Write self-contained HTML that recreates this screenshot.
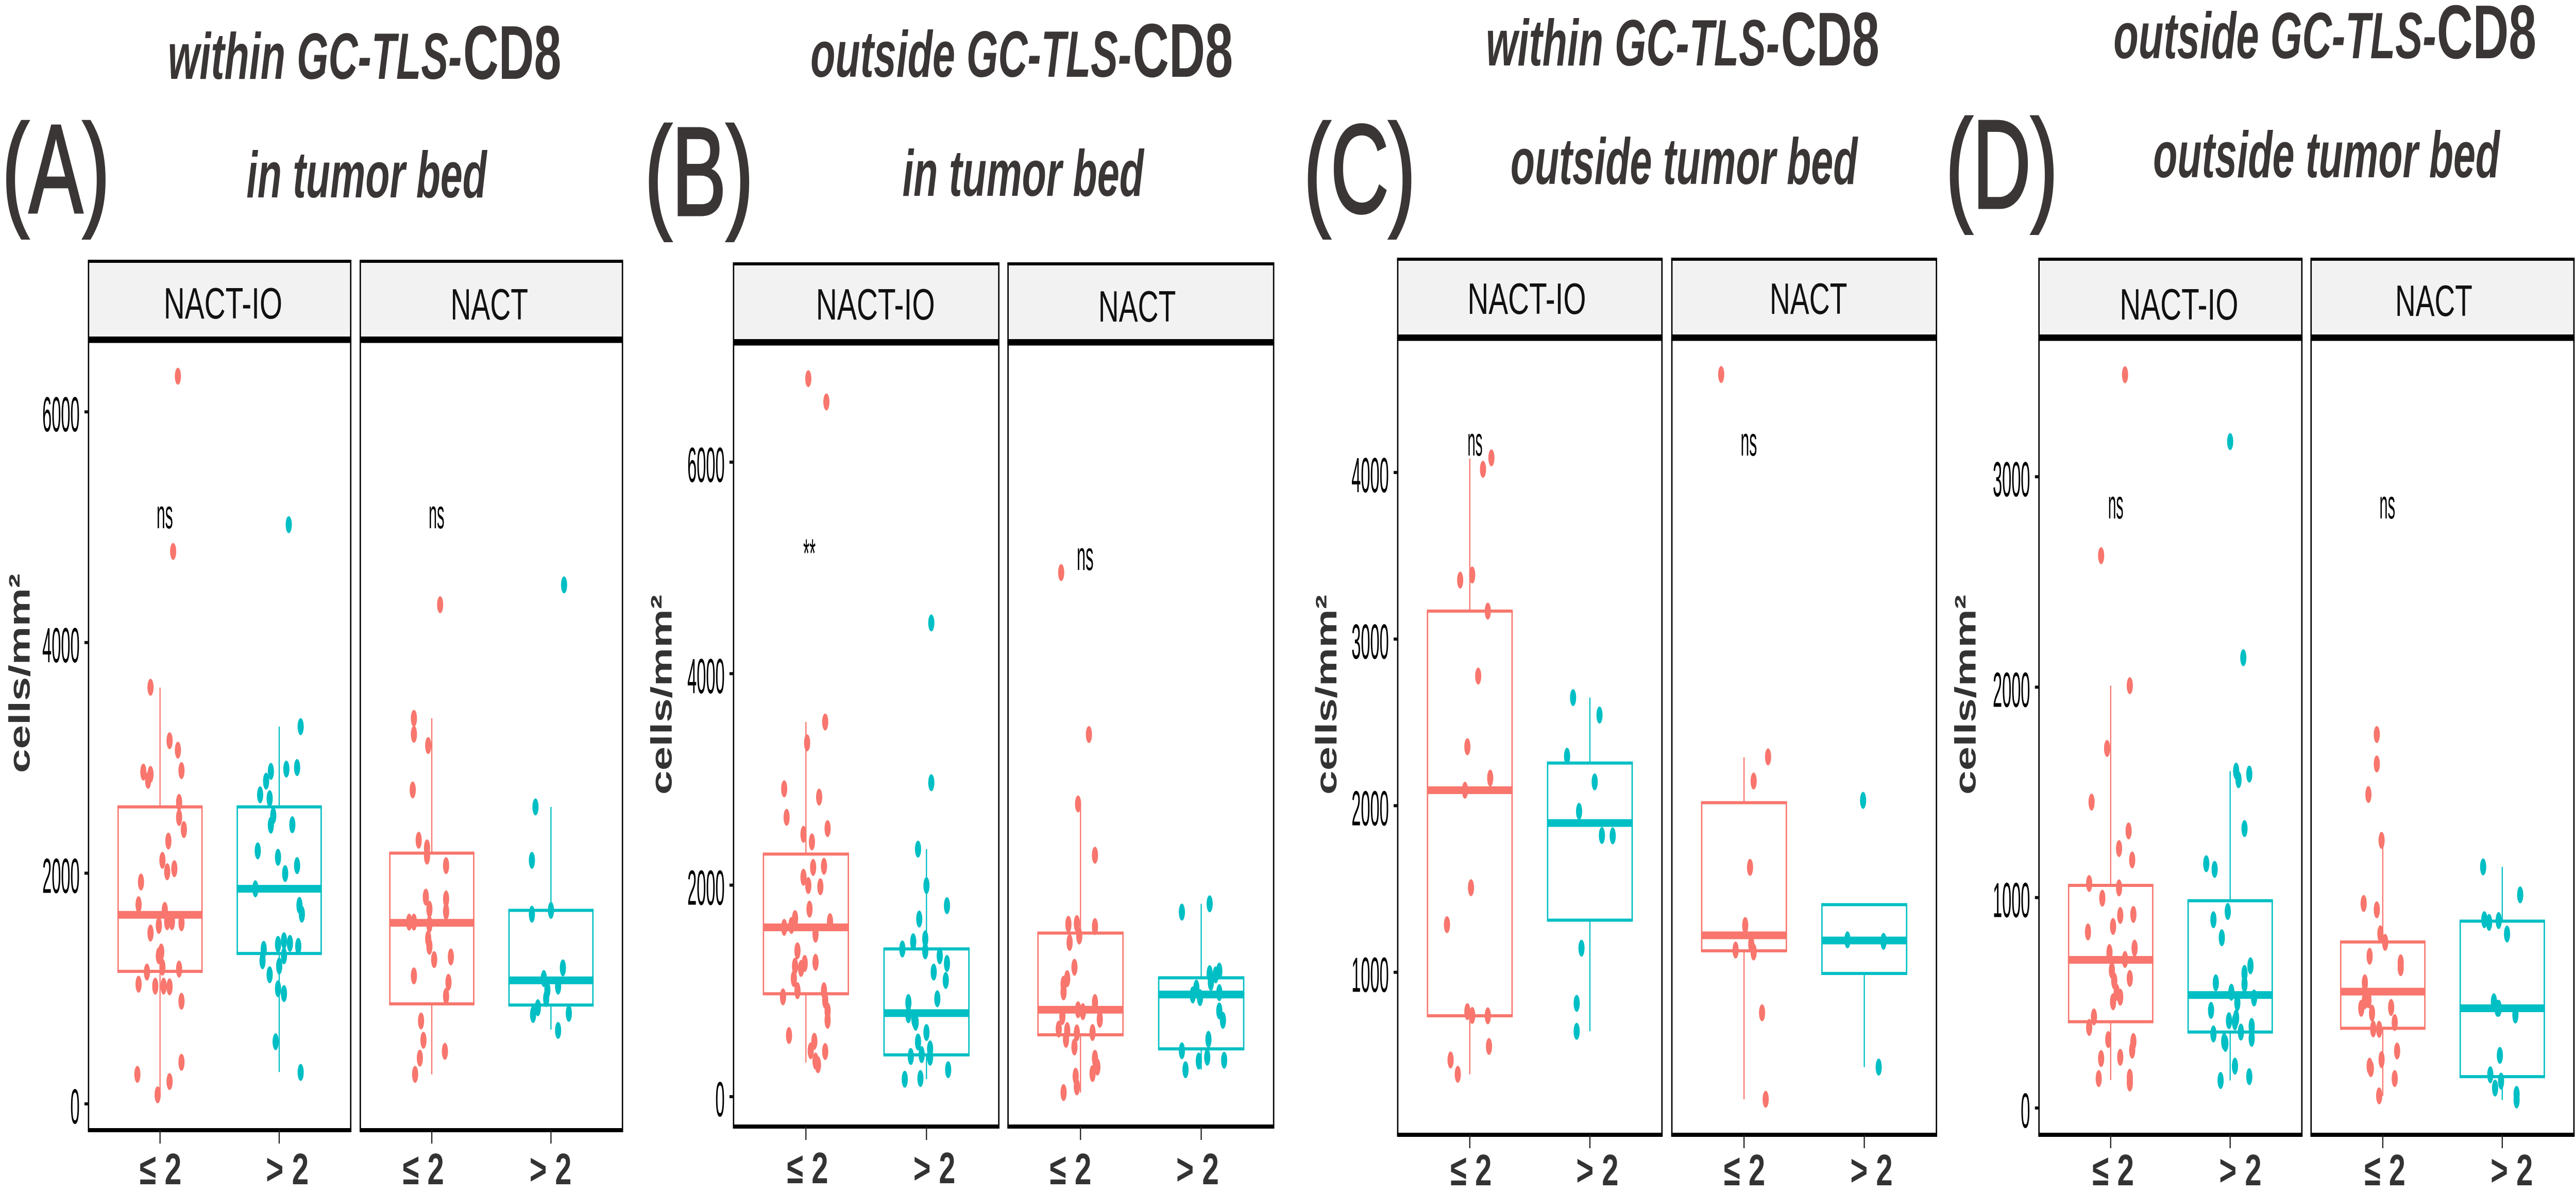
<!DOCTYPE html>
<html lang="en">
<head>
<meta charset="utf-8">
<title>GC-TLS CD8 boxplots</title>
<style>
html,body{margin:0;padding:0;background:#fff;overflow:hidden;width:100%;height:100%;}
svg{display:block;width:100vw;height:100vh;}
text{font-family:"Liberation Sans",Arial,sans-serif;}
.ttl{font-weight:700;font-style:italic;font-size:127px;fill:#3a3635;}
.cd8{font-weight:700;font-size:148px;fill:#3a3635;}
.tag{font-size:244px;fill:#3a3635;stroke:#3a3635;stroke-width:5px;}
.strip{font-size:85px;fill:#111;}
.ylab{font-weight:700;font-size:86px;fill:#333;}
.xt{font-weight:700;font-size:85px;fill:#333;}
.sig{font-size:79px;fill:#000;}
.yt{font-size:96px;fill:#000;}
</style>
</head>
<body>
<svg id="figure" xmlns="http://www.w3.org/2000/svg" viewBox="0 0 7536 2313" preserveAspectRatio="none">
<rect width="7536" height="2313" fill="#ffffff"/>
<g id="marks"></g>

<g>
<text class="tag" x="6" y="412" textLength="315" lengthAdjust="spacingAndGlyphs">(A)</text>
<text class="ttl" x="491" y="153" textLength="860" lengthAdjust="spacingAndGlyphs">within GC-TLS-</text>
<text class="cd8" x="1355" y="153" textLength="287" lengthAdjust="spacingAndGlyphs">CD8</text>
<text class="ttl" x="721" y="383" textLength="703" lengthAdjust="spacingAndGlyphs">in tumor bed</text>
<text class="strip" x="479" y="618" textLength="347" lengthAdjust="spacingAndGlyphs">NACT-IO</text>
<text class="strip" x="1318" y="620" textLength="227" lengthAdjust="spacingAndGlyphs">NACT</text>
<text class="ylab" transform="translate(87,1500) rotate(-90)" textLength="387" lengthAdjust="spacingAndGlyphs">cells/mm²</text>
<text class="xt" x="408" y="2298" textLength="123" lengthAdjust="spacingAndGlyphs">≤ 2</text>
<text class="xt" x="778" y="2298" textLength="125" lengthAdjust="spacingAndGlyphs">&gt; 2</text>
<text class="xt" x="1178" y="2298" textLength="121" lengthAdjust="spacingAndGlyphs">≤ 2</text>
<text class="xt" x="1549" y="2298" textLength="123" lengthAdjust="spacingAndGlyphs">&gt; 2</text>
<text class="sig" x="458" y="1025" textLength="48" lengthAdjust="spacingAndGlyphs">ns</text>
<text class="sig" x="1254" y="1025" textLength="46" lengthAdjust="spacingAndGlyphs">ns</text>
</g>

<g>
<text class="tag" x="1886" y="417" textLength="318" lengthAdjust="spacingAndGlyphs">(B)</text>
<text class="ttl" x="2371" y="149" textLength="939" lengthAdjust="spacingAndGlyphs">outside GC-TLS-</text>
<text class="cd8" x="3314" y="149" textLength="293" lengthAdjust="spacingAndGlyphs">CD8</text>
<text class="ttl" x="2640" y="380" textLength="706" lengthAdjust="spacingAndGlyphs">in tumor bed</text>
<text class="strip" x="2387" y="620" textLength="348" lengthAdjust="spacingAndGlyphs">NACT-IO</text>
<text class="strip" x="3213" y="624" textLength="227" lengthAdjust="spacingAndGlyphs">NACT</text>
<text class="ylab" transform="translate(1965,1542) rotate(-90)" textLength="388" lengthAdjust="spacingAndGlyphs">cells/mm²</text>
<text class="xt" x="2302" y="2296" textLength="121" lengthAdjust="spacingAndGlyphs">≤ 2</text>
<text class="xt" x="2672" y="2296" textLength="123" lengthAdjust="spacingAndGlyphs">&gt; 2</text>
<text class="xt" x="3071" y="2298" textLength="122" lengthAdjust="spacingAndGlyphs">≤ 2</text>
<text class="xt" x="3441" y="2298" textLength="125" lengthAdjust="spacingAndGlyphs">&gt; 2</text>
<text class="sig" x="2350" y="1101" textLength="36" lengthAdjust="spacingAndGlyphs">**</text>
<text class="sig" x="3150" y="1106" textLength="49" lengthAdjust="spacingAndGlyphs">ns</text>
</g>

<g>
<text class="tag" x="3814" y="412" textLength="327" lengthAdjust="spacingAndGlyphs">(C)</text>
<text class="ttl" x="4347" y="127" textLength="859" lengthAdjust="spacingAndGlyphs">within GC-TLS-</text>
<text class="cd8" x="5210" y="127" textLength="288" lengthAdjust="spacingAndGlyphs">CD8</text>
<text class="ttl" x="4419" y="357" textLength="1015" lengthAdjust="spacingAndGlyphs">outside tumor bed</text>
<text class="strip" x="4293" y="609" textLength="347" lengthAdjust="spacingAndGlyphs">NACT-IO</text>
<text class="strip" x="5177" y="609" textLength="227" lengthAdjust="spacingAndGlyphs">NACT</text>
<text class="ylab" transform="translate(3910,1542) rotate(-90)" textLength="388" lengthAdjust="spacingAndGlyphs">cells/mm²</text>
<text class="xt" x="4243" y="2300" textLength="121" lengthAdjust="spacingAndGlyphs">≤ 2</text>
<text class="xt" x="4611" y="2300" textLength="124" lengthAdjust="spacingAndGlyphs">&gt; 2</text>
<text class="xt" x="5043" y="2300" textLength="121" lengthAdjust="spacingAndGlyphs">≤ 2</text>
<text class="xt" x="5413" y="2300" textLength="124" lengthAdjust="spacingAndGlyphs">&gt; 2</text>
<text class="sig" x="4293" y="884" textLength="44" lengthAdjust="spacingAndGlyphs">ns</text>
<text class="sig" x="5092" y="884" textLength="48" lengthAdjust="spacingAndGlyphs">ns</text>
</g>

<g>
<text class="tag" x="5692" y="403" textLength="328" lengthAdjust="spacingAndGlyphs">(D)</text>
<text class="ttl" x="6183" y="113" textLength="944" lengthAdjust="spacingAndGlyphs">outside GC-TLS-</text>
<text class="cd8" x="7129" y="113" textLength="291" lengthAdjust="spacingAndGlyphs">CD8</text>
<text class="ttl" x="6299" y="344" textLength="1014" lengthAdjust="spacingAndGlyphs">outside tumor bed</text>
<text class="strip" x="6201" y="620" textLength="347" lengthAdjust="spacingAndGlyphs">NACT-IO</text>
<text class="strip" x="7007" y="613" textLength="226" lengthAdjust="spacingAndGlyphs">NACT</text>
<text class="ylab" transform="translate(5779,1542) rotate(-90)" textLength="388" lengthAdjust="spacingAndGlyphs">cells/mm²</text>
<text class="xt" x="6121" y="2300" textLength="122" lengthAdjust="spacingAndGlyphs">≤ 2</text>
<text class="xt" x="6492" y="2300" textLength="124" lengthAdjust="spacingAndGlyphs">&gt; 2</text>
<text class="xt" x="6917" y="2300" textLength="120" lengthAdjust="spacingAndGlyphs">≤ 2</text>
<text class="xt" x="7286" y="2300" textLength="124" lengthAdjust="spacingAndGlyphs">&gt; 2</text>
<text class="sig" x="6167" y="1006" textLength="45" lengthAdjust="spacingAndGlyphs">ns</text>
<text class="sig" x="6961" y="1006" textLength="46" lengthAdjust="spacingAndGlyphs">ns</text>
</g>
</svg>

<script>
// Tick labels
const ticksA = [0, 2000, 4000, 6000];
const ticksB = [0, 2000, 4000, 6000];
const ticksC = [1000, 2000, 3000, 4000];
const ticksD = [0, 1000, 2000, 3000];

// Box statistics: [whisker low, q1, median, q3, whisker high]
const aIoLeBox = [85, 1149, 1639, 2575, 3609];
const aIoGtBox = [276, 1304, 1865, 2575, 3271];
const aNaLeBox = [256, 867, 1570, 2174, 3343];
const aNaGtBox = [644, 857, 1071, 1678, 2575];
const bIoLeBox = [323, 973, 1601, 2294, 3543];
const bIoGtBox = [165, 395, 790, 1397, 2341];
const bNaLeBox = [39, 585, 822, 1547, 2768];
const bNaGtBox = [255, 452, 966, 1124, 1824];
const cIoLeBox = [388, 739, 2093, 3168, 4084];
const cIoGtBox = [646, 1313, 1896, 2256, 2649];
const cNaLeBox = [238, 1129, 1222, 2018, 2290];
const cNaGtBox = [431, 993, 1191, 1406, 1406];
const dIoLeBox = [133, 410, 704, 1058, 2007];
const dIoGtBox = [131, 361, 537, 985, 1601];
const dNaLeBox = [58, 379, 553, 789, 1272];
const dNaGtBox = [38, 149, 474, 888, 1146];

// Point values (cells/mm²) and horizontal jitter (fraction of a category)
const aIoLeValues = [6309,4790,3612,3149,3067,2877,2857,2805,2890,2614,2483,2378,2279,2112,2039,2013,1924,1727,1678,1580,1580,1570,1547,1481,1317,1284,1185,1169,1143,1038,1021,1021,1015,890,361,256,194,79];
const aIoLeJitter = [.15,.11,-.08,.08,.15,-.14,-.08,-.10,.18,.16,.16,.20,.07,.02,.12,.06,-.16,-.18,.04,.06,.10,.18,-.01,-.08,.01,-.01,.02,.16,-.11,-.18,-.04,.03,.08,.18,.18,-.19,.08,-.02];
const aIoGtValues = [5022,3271,2916,2903,2883,2798,2680,2647,2499,2417,2420,2194,2138,2066,1997,1865,1721,1645,1415,1392,1383,1366,1340,1284,1241,1195,1120,998,956,539,273];
const aIoGtJitter = [.08,.18,.15,.06,-.07,-.11,-.16,-.08,-.05,-.07,.11,-.18,-.01,.15,.05,-.20,.17,.19,.04,.09,-.01,.16,-.13,.04,-.14,0,-.08,-.01,.04,-.03,.18];
const aNaLeValues = [4328,3343,3205,3107,2722,2286,2220,2148,2066,1793,1777,1688,1668,1576,1576,1557,1432,1366,1274,1251,1110,1054,933,719,552,456,397,256];
const aNaLeJitter = [.07,-.15,-.15,-.03,-.16,-.11,-.04,-.04,.12,-.05,.12,-.02,.12,-.19,-.15,-.02,-.03,-.02,.16,.02,-.15,.14,.12,-.09,-.07,.11,-.10,-.14];
const aNaGtValues = [4500,2575,2112,1678,1645,1179,1087,1021,988,913,834,775,785,637];
const aNaGtJitter = [.11,-.13,-.16,0,-.16,.10,-.06,.06,-.03,-.04,-.11,-.15,.15,.06];

const bIoLeValues = [6790,6570,3543,3346,2911,2833,2642,2535,2481,2409,2168,2179,2075,1996,1985,1773,1684,1655,1601,1619,1537,1379,1271,1260,1235,1213,1116,1002,1002,944,912,811,722,578,524,434,427,337,302];
const bIoLeJitter = [.02,.17,.16,.01,-.18,.11,-.16,.18,-.02,.05,.06,.15,-.02,.02,.12,.03,-.09,.20,-.18,-.12,.08,-.07,.08,-.01,-.09,-.04,-.10,-.07,.15,-.19,.16,.18,.18,-.14,.07,.04,.16,.08,.10];
const bIoGtValues = [4480,2969,2341,1996,1806,1680,1493,1465,1397,1379,1332,1260,1178,1099,926,890,775,732,704,607,517,452,398,380,373,255,172,165];
const bIoGtJitter = [.04,.04,-.07,0,.17,-.06,-.01,-.11,-.20,-.01,.11,.17,.06,.16,.09,-.15,-.15,-.10,-.09,0,-.07,.03,-.04,-.13,.03,.18,-.05,-.18];
const bNaLeValues = [4956,3425,2768,2283,1630,1637,1608,1519,1458,1224,1116,1063,991,890,822,804,758,732,639,625,603,607,542,470,363,280,219,194,93,39];
const bNaLeJitter = [-.16,.07,-.02,.12,-.10,-.03,.12,-.01,-.09,-.05,-.11,-.14,-.14,.12,-.02,.02,-.15,.16,-.18,-.11,-.03,.10,-.12,-.05,.12,.14,.10,-.04,-.03,-.14];
const bNaGtValues = [1824,1745,1188,1163,1152,1081,1027,962,984,937,811,722,542,434,373,337,345,255];
const bNaGtJitter = [.07,-.16,.15,.07,.12,.08,-.04,-.07,.15,-.01,.15,.18,.06,-.16,.05,-.02,.19,-.13];

const cIoLeValues = [4088,4019,3385,3354,3168,2778,2354,2166,2093,1508,1286,764,741,739,555,474,388];
const cIoLeJitter = [.18,.11,.02,-.08,.15,.07,-.02,.17,-.04,.01,-.19,-.02,.02,.15,.16,-.16,-.10];
const cIoGtValues = [2649,2544,2297,2143,1966,1821,1819,1145,814,646];
const cIoGtJitter = [-.14,.08,-.19,.04,-.09,.10,.19,-.07,-.11,-.11];
const cNaLeValues = [4588,2293,2148,1630,1281,1168,1134,1122,757,238];
const cNaLeJitter = [-.19,.20,.08,.05,.01,.06,-.07,.08,.15,.18];
const cNaGtValues = [2032,1195,1186,431];
const cNaGtJitter = [-.01,-.14,.16,.12];

const dIoLeValues = [3485,2625,2007,1709,1454,1317,1233,1179,1067,1046,997,915,920,863,837,760,739,706,654,604,616,550,527,505,433,383,325,316,275,235,241,140,146,119];
const dIoLeJitter = [.12,-.08,.16,-.03,-.16,.15,.07,.18,-.18,.07,-.07,.08,.19,.02,-.19,.20,-.01,.12,.01,.03,.16,.05,.08,.02,-.14,-.18,-.02,.19,.18,-.08,.08,-.10,.16,.16];
const dIoGtValues = [3167,2140,1601,1560,1587,1328,1161,1134,934,895,809,676,640,595,589,550,523,500,464,415,428,410,361,388,352,331,316,307,199,149,131];
const dIoGtJitter = [0,.11,.05,.07,.16,.12,-.20,-.13,-.02,-.14,-.07,.17,.12,-.12,.12,.01,.20,.06,-.16,-.01,.05,.04,.09,.18,-.14,.18,-.05,-.04,.04,.16,-.08];
const dNaLeValues = [1775,1635,1490,1272,972,942,828,787,721,690,667,595,514,510,474,478,451,406,376,374,271,230,199,187,140,58];
const dNaLeJitter = [-.05,-.05,-.12,-.01,-.16,-.05,-.02,.02,-.11,.15,.15,-.15,-.12,-.15,-.18,.07,-.09,.10,-.08,-.03,.12,-.01,-.11,-.10,.10,-.03];
const dNaGtValues = [1146,1013,895,882,891,827,505,474,474,442,250,158,128,95,65,38];
const dNaGtJitter = [-.16,.15,-.15,-.11,-.03,.04,-.07,-.04,-.03,.11,-.02,-.10,-.01,-.06,.12,.12];

// Layout of each panel (geometry only)
const panelLayouts = [
  {id:'a', facets:[[259,1026],[1054,1821]], top:507, stripLine:655, bottom:2193, zero:2142, pxPerUnit:.2238, ticks:ticksA},
  {id:'b', facets:[[2146,2922],[2949,3726]], top:512, stripLine:660, bottom:2186, zero:2128, pxPerUnit:.2052, ticks:ticksB},
  {id:'c', facets:[[4089,4862],[4891,5665]], top:503, stripLine:651, bottom:2202, zero:2210, pxPerUnit:.3233, ticks:ticksC},
  {id:'d', facets:[[5965,6734],[6761,7530]], top:503, stripLine:651, bottom:2202, zero:2150, pxPerUnit:.4083, ticks:ticksD}
];

const seriesList = [
  {panel:0,facet:0,cat:0,values:aIoLeValues,jitter:aIoLeJitter,box:aIoLeBox},
  {panel:0,facet:0,cat:1,values:aIoGtValues,jitter:aIoGtJitter,box:aIoGtBox},
  {panel:0,facet:1,cat:0,values:aNaLeValues,jitter:aNaLeJitter,box:aNaLeBox},
  {panel:0,facet:1,cat:1,values:aNaGtValues,jitter:aNaGtJitter,box:aNaGtBox},
  {panel:1,facet:0,cat:0,values:bIoLeValues,jitter:bIoLeJitter,box:bIoLeBox},
  {panel:1,facet:0,cat:1,values:bIoGtValues,jitter:bIoGtJitter,box:bIoGtBox},
  {panel:1,facet:1,cat:0,values:bNaLeValues,jitter:bNaLeJitter,box:bNaLeBox},
  {panel:1,facet:1,cat:1,values:bNaGtValues,jitter:bNaGtJitter,box:bNaGtBox},
  {panel:2,facet:0,cat:0,values:cIoLeValues,jitter:cIoLeJitter,box:cIoLeBox},
  {panel:2,facet:0,cat:1,values:cIoGtValues,jitter:cIoGtJitter,box:cIoGtBox},
  {panel:2,facet:1,cat:0,values:cNaLeValues,jitter:cNaLeJitter,box:cNaLeBox},
  {panel:2,facet:1,cat:1,values:cNaGtValues,jitter:cNaGtJitter,box:cNaGtBox},
  {panel:3,facet:0,cat:0,values:dIoLeValues,jitter:dIoLeJitter,box:dIoLeBox},
  {panel:3,facet:0,cat:1,values:dIoGtValues,jitter:dIoGtJitter,box:dIoGtBox},
  {panel:3,facet:1,cat:0,values:dNaLeValues,jitter:dNaLeJitter,box:dNaLeBox},
  {panel:3,facet:1,cat:1,values:dNaGtValues,jitter:dNaGtJitter,box:dNaGtBox}
];

const groupColors = ['#F8766D', '#00BFC4'];
const facetNames = ['nact-io', 'nact'];
const catNames = ['low', 'high'];
const SVGNS = 'http://www.w3.org/2000/svg';
const root = document.getElementById('marks');

function make(tag, attrs, parent) {
  const el = document.createElementNS(SVGNS, tag);
  for (const k in attrs) el.setAttribute(k, attrs[k]);
  (parent || root).appendChild(el);
  return el;
}
function yScale(layout, v) { return layout.zero - v * layout.pxPerUnit; }
function xUnit(range) { return (range[1] - range[0]) / 2.2; }
function xScale(range, cat, offset) { return range[0] + (0.6 + cat + offset) * xUnit(range); }
function hLine(x1, x2, y, w, color, parent) {
  return make('rect', {x:x1, y:y - w / 2, width:x2 - x1, height:w, fill:color}, parent);
}
function vLine(x, y1, y2, w, color, parent) {
  return make('rect', {x:x - w / 2, y:y1, width:w, height:y2 - y1, fill:color}, parent);
}

panelLayouts.forEach(function (p) {
  p.facets.forEach(function (range, fi) {
    const name = 'panel-' + p.id + '-' + facetNames[fi];
    const strip = make('rect', {x:range[0], y:p.top, width:range[1] - range[0], height:p.stripLine - p.top, fill:'#f2f2f2', stroke:'#000', 'stroke-width':4});
    
    
    const frame = make('rect', {x:range[0], y:p.stripLine + 5, width:range[1] - range[0], height:p.bottom - p.stripLine - 5, fill:'#fff', stroke:'#000', 'stroke-width':4});
    
    
    const sl = hLine(range[0] - 2, range[1] + 2, p.stripLine + 5, 11, '#000');
    
    
    const tl = hLine(range[0] - 2, range[1] + 2, p.top, 6, '#000');
    
    
    const bl = hLine(range[0] - 2, range[1] + 2, p.bottom, 8, '#000');
    
    
    [0, 1].forEach(function (c) {
      const t = vLine(xScale(range, c, 0), p.bottom, p.bottom + 26, 3.5, '#222');
      
      
    });
  });
  const left = p.facets[0][0];
  p.ticks.forEach(function (v) {
    const y = yScale(p, v);
    const mark = hLine(left - 12, left, y, 6, '#111');
    
    
    const s = String(v);
    const label = make('text', {'class':'yt', x:left - 26, y:y + 38, 'text-anchor':'end', textLength:s.length * 27.3, lengthAdjust:'spacingAndGlyphs'});
    label.textContent = s;
    
    
  });
});

seriesList.forEach(function (s) {
  const p = panelLayouts[s.panel];
  const range = p.facets[s.facet];
  const color = groupColors[s.cat];
  const base = 'panel-' + p.id + '-' + facetNames[s.facet] + '-' + catNames[s.cat];
  const g = make('g', {});
  
  

  const cx = xScale(range, s.cat, 0);
  const half = 0.352 * xUnit(range);
  const lo = yScale(p, s.box[0]), q1 = yScale(p, s.box[1]), med = yScale(p, s.box[2]), q3 = yScale(p, s.box[3]), hi = yScale(p, s.box[4]);

  const wu = vLine(cx, hi, q3, 3.5, color, g);
  
  
  const wl = vLine(cx, q1, lo, 3.5, color, g);
  
  
  const ls = vLine(cx - half, q3, q1, 4, color, g);
  
  
  const rs = vLine(cx + half, q3, q1, 4, color, g);
  
  
  const tq = hLine(cx - half - 2, cx + half + 2, q3, 6, color, g);
  
  
  const bq = hLine(cx - half - 2, cx + half + 2, q1, 6, color, g);
  
  
  const md = hLine(cx - half - 2, cx + half + 2, med, 15, color, g);
  
  

  s.values.forEach(function (v, i) {
    const dot = make('ellipse', {cx:xScale(range, s.cat, s.jitter[i]), cy:yScale(p, v), rx:9, ry:16.5, fill:color}, g);
    
    
  });
});
</script>
</body>
</html>
